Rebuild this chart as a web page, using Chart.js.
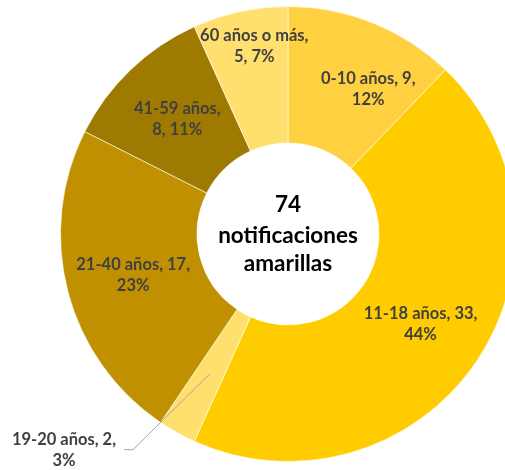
<!DOCTYPE html>
<html lang="es">
<head>
  <meta charset="UTF-8" />
  <title>Notificaciones amarillas</title>
  <script src="https://cdn.jsdelivr.net/npm/chart.js"></script>
  <style>
    html, body {
      margin: 0;
      padding: 0;
      background: #ffffff;
      overflow: hidden;
    }

    .wrap {
      position: relative;
      width: 576px;
      height: 470px;
    }
  </style>
</head>
<body>
  <div class="wrap">
    <canvas id="grupos"></canvas>
  </div>

  <script>
    // data
    const categorias = ['0-10 años', '11-18 años', '19-20 años', '21-40 años', '41-59 años', '60 años o más'];
    const notificaciones = [9, 33, 2, 17, 8, 5];
    const porcentajes = [12, 44, 3, 23, 11, 7];
    const colores = ['#FFD03F', '#FFCC00', '#FFE06E', '#C09000', '#9E7A00', '#FFE06E'];

    const total = notificaciones.reduce((a, b) => a + b, 0);
    const fuente = 'Lato, "Open Sans", sans-serif';

    // per-slice label placement: radius from centre, extra angle in degrees, outside with leader line
    const colocacion = [
      { r: 166, da: 7 },
      { r: 160, da: 0 },
      { r: 160, da: 0, fuera: true },
      { r: 160, da: 0 },
      { r: 160, da: 0 },
      { r: 191, da: 2 }
    ];

    const etiquetas = {
      id: 'etiquetas',
      afterDatasetsDraw(chart) {
        const ctx = chart.ctx;
        const arcs = chart.getDatasetMeta(0).data;
        ctx.save();
        ctx.font = 'bold 16.5px ' + fuente;
        ctx.fillStyle = '#404040';
        ctx.textAlign = 'center';
        ctx.textBaseline = 'middle';
        arcs.forEach((arc, i) => {
          const p = arc.getProps(['x', 'y', 'startAngle', 'endAngle']);
          const c = colocacion[i];
          const a = (p.startAngle + p.endAngle) / 2 + c.da * Math.PI / 180;
          const x = p.x + Math.cos(a) * c.r;
          const y = p.y + Math.sin(a) * c.r;
          if (c.fuera) {
            const ex = x - 77, ey = y + 76;
            ctx.strokeStyle = '#A6A6A6';
            ctx.lineWidth = 1;
            ctx.beginPath();
            ctx.moveTo(x, y);
            ctx.lineTo(ex, ey);
            ctx.lineTo(ex - 9, ey);
            ctx.stroke();
            ctx.fillText(categorias[i] + ', ' + notificaciones[i] + ',', ex - 69, ey - 10);
            ctx.fillText(porcentajes[i] + '%', ex - 69, ey + 11);
            return;
          }
          let l1, l2;
          if (i === 4 || i === 5) {
            l1 = categorias[i] + ',';
            l2 = notificaciones[i] + ', ' + porcentajes[i] + '%';
          } else {
            l1 = categorias[i] + ', ' + notificaciones[i] + ',';
            l2 = porcentajes[i] + '%';
          }
          ctx.fillText(l1, x, y - 10);
          ctx.fillText(l2, x, y + 11);
        });

        // centre text
        const cx = arcs[0].x, cy = arcs[0].y;
        ctx.fillStyle = '#000000';
        ctx.font = 'bold 22.5px ' + fuente;
        ctx.fillText(String(total), cx, cy - 29);
        ctx.fillText('notificaciones', cx, cy + 2);
        ctx.fillText('amarillas', cx, cy + 30);
        ctx.restore();
      }
    };

    new Chart(document.getElementById('grupos'), {
      type: 'doughnut',
      data: {
        labels: categorias,
        datasets: [{
          data: notificaciones,
          backgroundColor: colores,
          borderColor: 'rgba(255,255,255,0.6)',
          borderWidth: 1,
          hoverOffset: 0
        }]
      },
      options: {
        responsive: true,
        maintainAspectRatio: false,
        animation: false,
        events: [],
        cutout: '40%',
        layout: { padding: { top: 6, bottom: 8, left: 0, right: 0 } },
        plugins: {
          legend: { display: false },
          tooltip: { enabled: false }
        }
      },
      plugins: [etiquetas]
    });
  </script>
</body>
</html>
